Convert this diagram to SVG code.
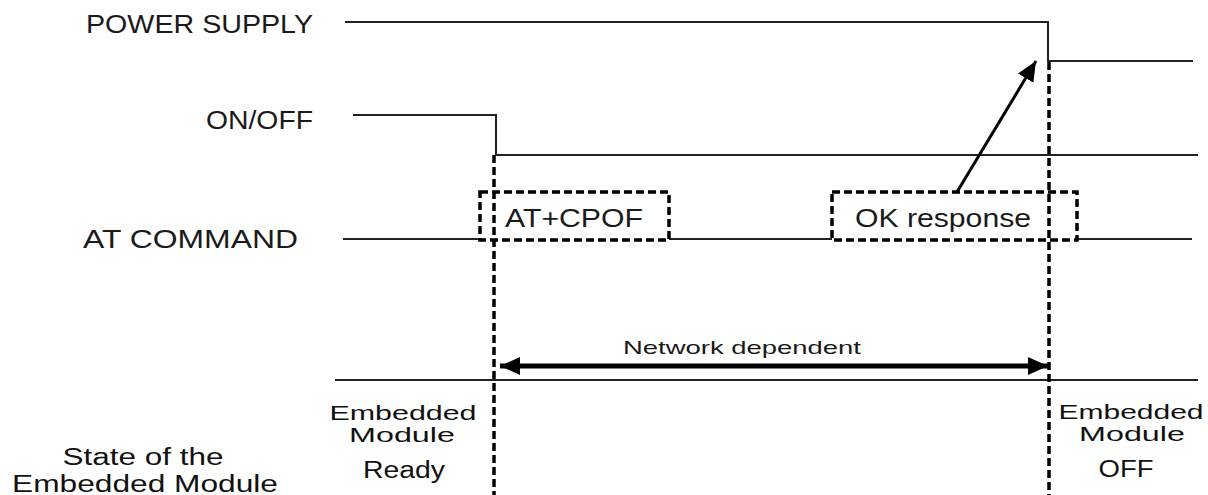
<svg xmlns="http://www.w3.org/2000/svg" width="1208" height="495" viewBox="0 0 1208 495">
<style>
.bg{fill:#ffffff}
.sig{fill:none;stroke:#222;stroke-width:2}
.dash{fill:none;stroke:#000;stroke-width:3.5;stroke-dasharray:8 4}
.box{fill:#ffffff;stroke:#000;stroke-width:3.5;stroke-dasharray:8 4}
.lbl{font-family:"Liberation Sans",Arial,sans-serif;font-size:26px;fill:#1a1a1a}
.st{font-family:"Liberation Sans",Arial,sans-serif;font-size:23px;fill:#111}
.st2{font-family:"Liberation Sans",Arial,sans-serif;font-size:20px;fill:#111}
.nd{font-family:"Liberation Sans",Arial,sans-serif;font-size:19px;fill:#1a1a1a}
.arr{fill:none;stroke:#000;stroke-width:3}
.dbl{fill:none;stroke:#000;stroke-width:5}
</style>
<defs>
<marker id="ah" markerUnits="userSpaceOnUse" markerWidth="22" markerHeight="18" refX="20" refY="9" orient="auto">
<path d="M0,0 L20,9 L0,18 Z" fill="#000"/>
</marker>
<marker id="ahs" markerUnits="userSpaceOnUse" markerWidth="22" markerHeight="18" refX="20" refY="9" orient="auto-start-reverse">
<path d="M0,0 L20,9 L0,18 Z" fill="#000"/>
</marker>
</defs>
<rect class="bg" x="0" y="0" width="1208" height="495"/>

<g id="power-supply">
<text class="lbl" x="86" y="33" textLength="227" lengthAdjust="spacingAndGlyphs">POWER SUPPLY</text>
<path class="sig" d="M345,22 H1048 V61 H1193"/>
</g>

<g id="on-off">
<text class="lbl" x="206" y="129" textLength="107" lengthAdjust="spacingAndGlyphs">ON/OFF</text>
<path class="sig" d="M353,115 H496 V155 H1198"/>
</g>

<g id="at-command">
<text class="lbl" x="83" y="248" textLength="215" lengthAdjust="spacingAndGlyphs">AT COMMAND</text>
<path class="sig" d="M343,239 H1192"/>
</g>

<g id="state-line">
<path class="sig" d="M335,380 H1198"/>
<text class="st" x="143" y="465" text-anchor="middle" textLength="161" lengthAdjust="spacingAndGlyphs">State of the</text>
<text class="st" x="145" y="492" text-anchor="middle" textLength="266" lengthAdjust="spacingAndGlyphs">Embedded Module</text>
</g>

<g id="at-cpof">
<rect class="box" x="480" y="192" width="189" height="48"/>
<text class="lbl" x="505" y="227" textLength="138" lengthAdjust="spacingAndGlyphs">AT+CPOF</text>
</g>

<g id="ok-response">
<rect class="box" x="832" y="192" width="245" height="48"/>
<text class="lbl" x="855" y="227" textLength="176" lengthAdjust="spacingAndGlyphs">OK response</text>
</g>

<g id="state-ready">
<text class="st2" x="403" y="420" text-anchor="middle" textLength="147" lengthAdjust="spacingAndGlyphs">Embedded</text>
<text class="st2" x="402" y="442" text-anchor="middle" textLength="106" lengthAdjust="spacingAndGlyphs">Module</text>
<text class="st" x="404" y="478" text-anchor="middle" textLength="82" lengthAdjust="spacingAndGlyphs">Ready</text>
</g>

<g id="state-off">
<text class="st2" x="1131" y="419" text-anchor="middle" textLength="145" lengthAdjust="spacingAndGlyphs">Embedded</text>
<text class="st2" x="1132" y="441" text-anchor="middle" textLength="106" lengthAdjust="spacingAndGlyphs">Module</text>
<text class="st" x="1126" y="477" text-anchor="middle" textLength="55" lengthAdjust="spacingAndGlyphs">OFF</text>
</g>

<g id="connectors">
<path class="dash" d="M494,155 V495"/>
<path class="dash" d="M1049,62 V495"/>
<path class="arr" d="M957,192 L1036,61" marker-end="url(#ah)"/>
<path class="dbl" d="M500,366 L1048,366" marker-start="url(#ahs)" marker-end="url(#ah)"/>
<text class="nd" x="623" y="354" textLength="238" lengthAdjust="spacingAndGlyphs">Network dependent</text>
</g>
</svg>
